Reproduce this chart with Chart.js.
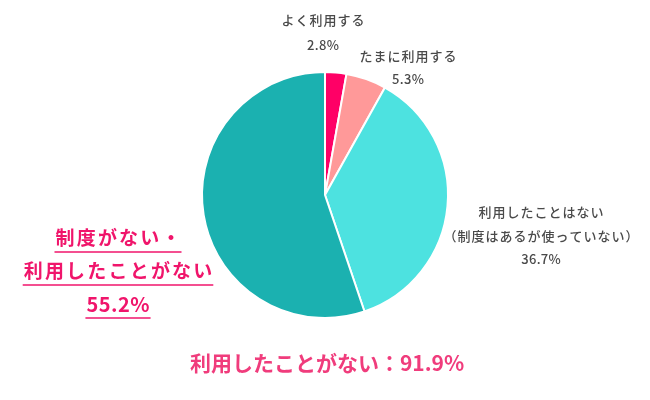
<!DOCTYPE html>
<html>
<head>
<meta charset="utf-8">
<script src="https://cdn.jsdelivr.net/npm/chart.js@4"></script>
<style>
  html, body { margin: 0; padding: 0; background: #fff; }
  #wrap { width: 650px; height: 400px; position: relative; }
</style>
</head>
<body>
<div id="wrap"><canvas id="pieChart" width="650" height="400"></canvas></div>
<script>
// data
const categories = ['よく利用する', 'たまに利用する', '利用したことはない（制度はあるが使っていない）', '制度がない・利用したことがない'];
const values = [2.8, 5.3, 36.7, 55.2];
const sliceColors = ['#ff0066', '#ff9999', '#4de2e0', '#1bb1b0'];
const totalLabel = '利用したことがない：91.9%';

const FONT = '"Noto Sans CJK JP", "Noto Sans", sans-serif';

// gray labels next to the small / mid slices
const grayLabels = [
    { lines: [categories[0], values[0] + '%'], x: 323, y: [20, 45] },
    { lines: ['たまに利用する', values[1] + '%'], x: 408, y: [56, 79] },
    { lines: ['利用したことはない', '（制度はあるが使っていない）', values[2] + '%'], x: 541, y: [212, 236, 259] }
];

// draw centered text with letter spacing (trailing spacing removed)
function centerText(ctx, t, x, y, spacing) {
    ctx.letterSpacing = spacing + 'px';
    const w = ctx.measureText(t).width - spacing;
    ctx.textAlign = 'left';
    ctx.fillText(t, x - w / 2, y);
    return w;
}

const isNum = t => /^[0-9.%]+$/.test(t);

const labelPlugin = {
    id: 'labelPlugin',
    afterDraw(chart) {
        const ctx = chart.ctx;
        ctx.save();
        ctx.textBaseline = 'middle';

        // gray labels
        ctx.fillStyle = '#4a4a4a';
        ctx.font = '500 13px ' + FONT;
        grayLabels.forEach(l => {
            l.lines.forEach((t, i) => centerText(ctx, t, l.x, l.y[i], isNum(t) ? 0.3 : 1));
        });

        // pink underlined label on the left
        const pinkLines = ['制度がない・', '利用したことがない', values[3] + '%'];
        const pinkY = [238, 271, 304];
        ctx.fillStyle = '#f0156b';
        ctx.strokeStyle = '#f0156b';
        ctx.lineWidth = 1.5;
        pinkLines.forEach((t, i) => {
            ctx.font = (isNum(t) ? 'bold 20px ' : 'bold 19px ') + FONT;
            const w = centerText(ctx, t, 118, pinkY[i], isNum(t) ? 0.5 : 2.2);
            ctx.beginPath();
            ctx.moveTo(118 - w / 2 - 1, pinkY[i] + 14);
            ctx.lineTo(118 + w / 2 + 1, pinkY[i] + 14);
            ctx.stroke();
        });

        // total at bottom
        ctx.fillStyle = '#f03c7c';
        ctx.font = 'bold 21px ' + FONT;
        centerText(ctx, totalLabel, 327, 363, 0);
        ctx.restore();
    }
};

const ctx = document.getElementById('pieChart').getContext('2d');
new Chart(ctx, {
    type: 'pie',
    data: {
        labels: categories,
        datasets: [{
            data: values,
            backgroundColor: sliceColors,
            borderColor: '#ffffff',
            borderWidth: 2
        }]
    },
    options: {
        responsive: false,
        animation: false,
        layout: { padding: { top: 71, bottom: 81, left: 0, right: 0 } },
        plugins: {
            legend: { display: false },
            tooltip: { enabled: false }
        }
    },
    plugins: [labelPlugin]
});
</script>
</body>
</html>
